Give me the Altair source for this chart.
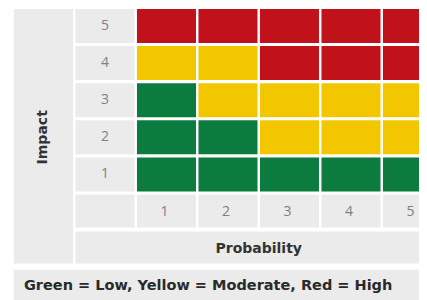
import altair as alt
import pandas as pd

# ---- data ----
probability = [1, 2, 3, 4, 5]          # columns, left to right
impact = [5, 4, 3, 2, 1]               # rows, top to bottom
risk = [                               # risk level per impact row / probability column
    ["High", "High", "High", "High", "High"],
    ["Moderate", "Moderate", "High", "High", "High"],
    ["Low", "Moderate", "Moderate", "Moderate", "Moderate"],
    ["Low", "Low", "Moderate", "Moderate", "Moderate"],
    ["Low", "Low", "Low", "Low", "Low"],
]
levels = ["Low", "Moderate", "High"]
level_colors = ["#0b7b3e", "#f2c700", "#c1121c"]
x_title = "Probability"
y_title = "Impact"
caption = "Green = Low, Yellow = Moderate, Red = High"

# ---- layout (in grid units) ----
HW = 0.48   # half width of a cell
HH = 0.458  # half height of a cell
n_rows = len(impact)
n_cols = len(probability)
tick_row = n_rows          # row holding probability labels
title_row = n_rows + 1     # row holding "Probability"
caption_row = n_rows + 2   # caption row
label_col = 0              # column holding impact labels
title_col = -1             # column holding "Impact"
GRAY = "#ebebeb"

cells = []
for r, (imp, row) in enumerate(zip(impact, risk)):
    for p, lvl in zip(probability, row):
        cells.append(dict(x=p - HW, x2=p + HW, y=r - HH, y2=r + HH, level=lvl))
cells = pd.DataFrame(cells)

gray = []
for r, imp in enumerate(impact):
    gray.append(dict(x=label_col - HW, x2=label_col + HW, y=r - HH, y2=r + HH))
for c in [label_col] + probability:
    gray.append(dict(x=c - HW, x2=c + HW, y=tick_row - HH, y2=tick_row + HH - 0.03))
gray.append(dict(x=title_col - HW, x2=title_col + HW, y=-HH, y2=title_row + HH - 0.06))
gray.append(dict(x=label_col - HW, x2=max(probability) + HW, y=title_row - HH, y2=title_row + HH - 0.06))
gray.append(dict(x=title_col - HW, x2=max(probability) + HW, y=caption_row - HH + 0.03, y2=caption_row + 1))
gray = pd.DataFrame(gray)

ylabels = pd.DataFrame({"x": [label_col] * n_rows, "y": list(range(n_rows)), "t": [str(i) for i in impact]})
xlabels = pd.DataFrame({"x": probability, "y": [tick_row] * n_cols, "t": [str(p) for p in probability]})
titles = pd.DataFrame({
    "x": [title_col, (label_col + max(probability)) / 2],
    "y": [(0 + title_row) / 2, title_row],
    "t": [y_title, x_title],
    "a": [270, 0],
})
cap = pd.DataFrame({"x": [title_col - HW], "y": [caption_row], "t": [caption]})

xs = alt.Scale(domain=[-1.577, 5.106], nice=False, zero=False)
ys = alt.Scale(domain=[-0.485, 7.385], nice=False, zero=False, reverse=True)

def xy(df_mark, two=True):
    enc = dict(
        x=alt.X("x:Q", scale=xs, axis=None),
        y=alt.Y("y:Q", scale=ys, axis=None),
    )
    if two:
        enc["x2"] = "x2:Q"
        enc["y2"] = "y2:Q"
    return df_mark.encode(**enc)

gray_layer = xy(alt.Chart(gray).mark_rect(color=GRAY, clip=True))
cell_layer = xy(alt.Chart(cells).mark_rect(clip=True)).encode(
    color=alt.Color("level:N", scale=alt.Scale(domain=levels, range=level_colors), legend=None)
)
num_font = "Open Sans"
bold_font = "DejaVu Sans"
ylab_layer = xy(alt.Chart(ylabels).mark_text(font=num_font, fontSize=14, color="#808080"), two=False).encode(text="t:N")
xlab_layer = xy(alt.Chart(xlabels).mark_text(font=num_font, fontSize=14, color="#808080", dx=-2), two=False).encode(text="t:N")
title_layer = xy(alt.Chart(titles).mark_text(font=bold_font, fontSize=14, fontWeight="bold", color="#333333"), two=False).encode(
    text="t:N", angle=alt.Angle("a:Q", scale=None)
)
cap_layer = xy(alt.Chart(cap).mark_text(font=bold_font, fontSize=14.5, fontWeight="bold", color="#2a2a2a", align="left", dx=10), two=False).encode(text="t:N")

chart = alt.layer(gray_layer, cell_layer, ylab_layer, xlab_layer, title_layer, cap_layer).properties(
    width=411, height=292, autosize=alt.AutoSizeParams(type="none"), padding=0, background="white"
).configure_view(stroke=None)

chart.save("out.html", embed_options={"renderer": "svg", "actions": False})
